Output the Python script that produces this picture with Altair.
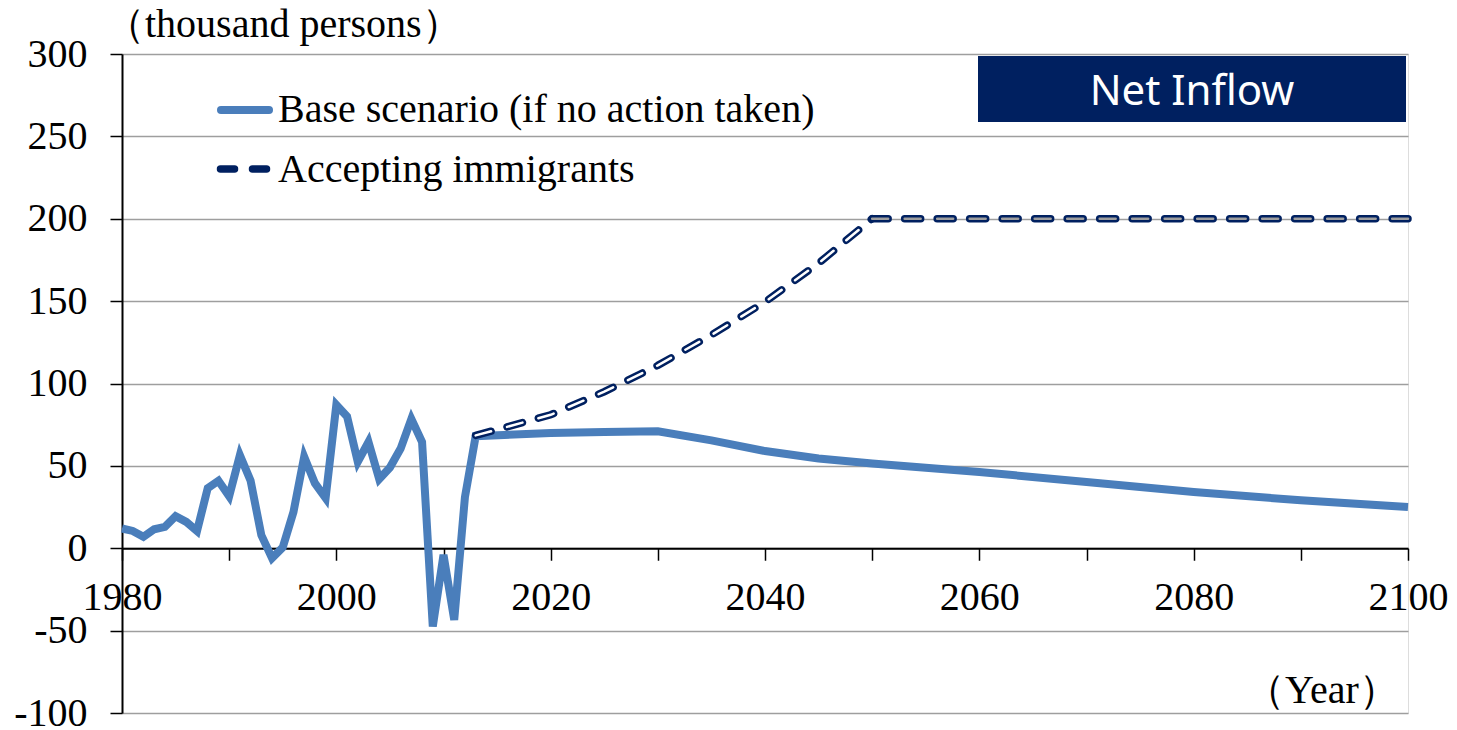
import altair as alt
import pandas as pd

# Recorded net inflow, 1980-2013 (thousand persons)
hist_years = list(range(1980, 2014))
hist_values = [12, 10.5, 7, 11.5, 13, 19.5, 16, 10.5, 36.5, 41, 31.5, 56.5, 41, 8,
               -6, 0.5, 22, 55.5, 39.5, 30.5, 87, 80, 52.5, 64.5, 42, 49, 60.5,
               78.5, 64.5, -47.5, -4, -43.5, 31, 68]

# Base scenario projection (if no action taken)
base_years = [2020, 2025, 2030, 2035, 2040, 2045, 2050, 2060, 2070, 2080, 2090, 2100]
base_values = [70, 70.5, 71, 65.5, 59, 54.5, 51.5, 46.3, 40.2, 34.2, 29.1, 25]

# Scenario accepting immigrants
imm_years = [2013, 2015, 2020, 2025, 2030, 2035, 2040, 2045, 2050, 2060, 2070, 2080, 2090, 2100]
imm_values = [68.5, 72, 81, 95, 111, 129.5, 149.5, 173, 200, 200, 200, 200, 200, 200]

x_ticks = list(range(1980, 2101, 10))
y_ticks = list(range(-100, 301, 50))

base_label = "Base scenario (if no action taken)"
imm_label = "Accepting immigrants"
unit_label = "（thousand persons）"
year_label = "（Year）"
panel_label = "Net Inflow"

W, H = 1286, 659
SERIF = "Liberation Serif"
BLUE = "#4a7ebb"
NAVY = "#002060"
GRID = "#9e9e9e"

base_df = pd.DataFrame({"year": hist_years + base_years,
                        "value": hist_values + base_values})
imm_df = pd.DataFrame({"year": imm_years, "value": imm_values})

x_scale = alt.Scale(domain=[1980, 2100], nice=False, zero=False)
y_scale = alt.Scale(domain=[-100, 300], nice=False, zero=False)

# x axis sits on the zero line, 100/400 of the plot height above the bottom edge
x_axis = alt.Axis(values=x_ticks, title=None,
                  labelExpr="datum.value % 20 == 0 ? '' + datum.value : ''",
                  offset=-H * 100 / 400, tickSize=12, tickWidth=1.5, tickColor="black",
                  domainColor="black", domainWidth=2, grid=False,
                  labelFont=SERIF, labelFontSize=40, labelColor="black",
                  labelPadding=17, labelFlush=False, labelOverlap=False)
y_axis = alt.Axis(values=y_ticks, title=None, labelExpr="datum.value + ''",
                  tickSize=12, tickWidth=1.5, tickColor="black",
                  domainColor="black", domainWidth=2,
                  grid=True, gridColor=GRID, gridWidth=1.5,
                  labelFont=SERIF, labelFontSize=40, labelColor="black",
                  labelPadding=23, labelFlush=False, labelOverlap=False)

enc = dict(x=alt.X("year:Q", scale=x_scale, axis=x_axis),
           y=alt.Y("value:Q", scale=y_scale, axis=y_axis))

base_line = alt.Chart(base_df).mark_line(color=BLUE, strokeWidth=8).encode(**enc)

dash = [16, 16.5]


def hollow_dash(cond, inner_color):
    """Outlined dashes: a wide navy dash with a thin inner dash on top."""
    part = alt.Chart(imm_df).transform_filter(cond)
    outer = part.mark_line(color=NAVY, strokeWidth=7.5, strokeDash=dash,
                           strokeCap="round").encode(**enc)
    inner = part.mark_line(color=inner_color, strokeWidth=2.5, strokeDash=dash,
                           strokeCap="round").encode(**enc)
    return [outer, inner]


rising = hollow_dash(alt.datum.year <= 2050, "white")
plateau = hollow_dash(alt.datum.year >= 2050, GRID)

one = alt.Data(values=[{}])


def label(text, x, y, size=40, color="black", align="left", font=SERIF):
    return alt.Chart(one).mark_text(text=text, font=font, fontSize=size, color=color,
                                    align=align, baseline="alphabetic").encode(
        x=alt.value(x), y=alt.value(y))


legend_solid = alt.Chart(one).mark_rule(color=BLUE, strokeWidth=8, strokeCap="round").encode(
    x=alt.value(99), x2=alt.value(147), y=alt.value(56))
legend_dash = alt.Chart(one).mark_rule(color=NAVY, strokeWidth=7.5, strokeCap="round",
                                       strokeDash=[14, 18]).encode(
    x=alt.value(98.5), x2=alt.value(147), y=alt.value(115))

panel_box = alt.Chart(one).mark_rect(color=NAVY).encode(
    x=alt.value(856), x2=alt.value(1284), y=alt.value(2), y2=alt.value(68))

chart = alt.layer(
    base_line, *rising, *plateau,
    legend_solid, legend_dash,
    label(base_label, 156, 68),
    label(imm_label, 156, 128),
    panel_box,
    label(panel_label, 1070, 51, size=42, color="white", align="center", font="Noto Sans"),
    label(unit_label, -17, -17),
    label(year_label, 1123, 649),
).properties(
    width=W, height=H,
    padding={"left": 122, "top": 54, "right": 49, "bottom": 17},
    autosize=alt.AutoSizeParams(type="none"),
).configure_view(stroke="black", strokeWidth=2).configure(background="white")

chart.save("out.html", embed_options={"renderer": "svg", "actions": False})
